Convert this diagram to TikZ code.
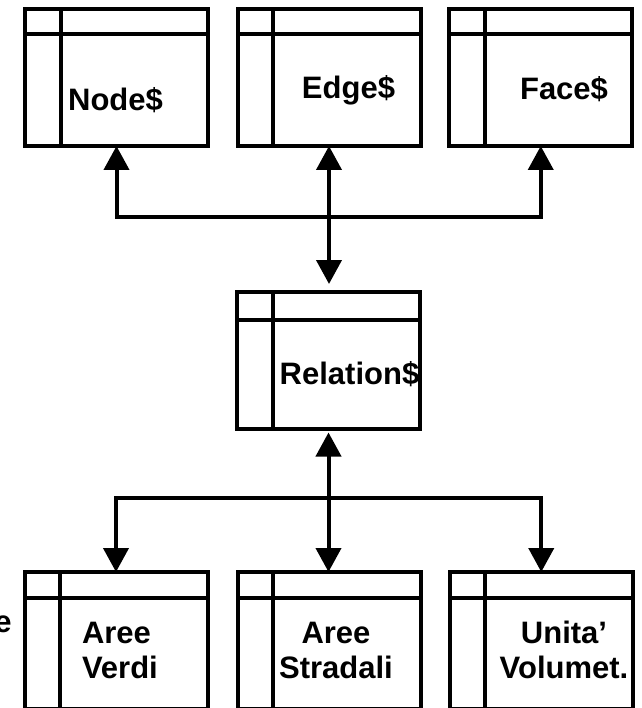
\documentclass[tikz,border=0pt]{standalone}
\usepackage{fontspec}
\setmainfont{Liberation Sans}
\usetikzlibrary{arrows.meta}
\begin{document}
\begin{tikzpicture}[x=1pt,y=-1pt,
  tbl/.style={draw,line width=4pt,minimum width=183pt,minimum height=136.5pt,inner sep=0pt,outer sep=0pt},
  lbl/.style={font=\fontsize{31}{35}\selectfont\bfseries,inner sep=0pt,outer sep=0pt},
  conn/.style={line width=4pt,{Triangle[length=24pt,width=25pt]}-{Triangle[length=24pt,width=25pt]}},
  gridline/.style={line width=4pt}]
\useasboundingbox (0,0) rectangle (641,708);
\clip (0,0) rectangle (641,708);
% tables
\node[tbl] (nodeT) at (116.5,77.75) {};
\node[tbl] (edgeT) at (329,77.75) {};
\node[tbl] (faceT) at (540.75,77.75) {};
\node[tbl] (relT) at (328.5,360.25) {};
\node[tbl] (avT) at (116,640.25) {};
\node[tbl] (asT) at (329.3,640.25) {};
\node[tbl] (uvT) at (541.25,640.25) {};
\foreach \b/\h in {nodeT/25,edgeT/25,faceT/25,relT/27.5,avT/26,asT/26,uvT/26}{
  \draw[gridline] ([xshift=35.5pt]\b.north west) -- ([xshift=35.5pt]\b.south west);
  \draw[gridline] ([yshift=-\h pt]\b.north west) -- ([yshift=-\h pt]\b.north east);
}
% labels
\node[lbl,anchor=base] (nodeL) at (115.5,111) {Node\$};
\node[lbl,anchor=base] (edgeL) at (348.5,99) {Edge\$};
\node[lbl,anchor=base] (faceL) at (564,100) {Face\$};
\node[lbl,anchor=base] (relL) at (349.5,384) {Relation\$};
\node[lbl,anchor=base west,align=left] (avL) at (82,678) {Aree\\Verdi};
\node[lbl,anchor=base,align=center] (asL) at (336,678) {Aree\\Stradali};
\node[lbl,anchor=base,align=center] (uvL) at (564,678) {Unita’\\Volumet.};
\node[lbl,anchor=base east] (cutL) at (11.5,632.5) {e};
% connectors
\coordinate (tbus) at (0,216.7);
\coordinate (bbus) at (0,498);
\draw[conn] (nodeT.south) -- (nodeT.south |- tbus) -- (faceT.south |- tbus) -- (faceT.south);
\draw[conn,shorten >=8pt] (edgeT.south) -- (edgeT.south |- relT.north);
\draw[conn] (avT.north) -- (avT.north |- bbus) -- (uvT.north |- bbus) -- (uvT.north);
\draw[conn,shorten <=4pt] (relT.south) -- (relT.south |- asT.north);
\end{tikzpicture}
\end{document}
